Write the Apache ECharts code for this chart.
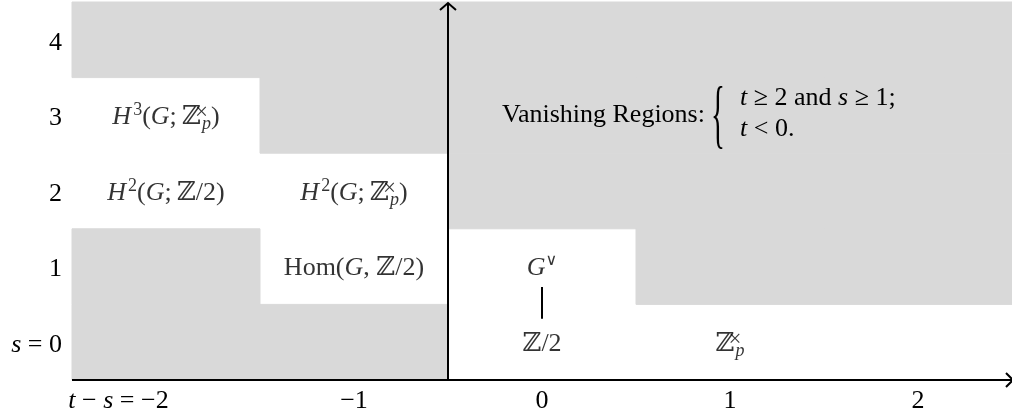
<!DOCTYPE html>
<html><head><meta charset="utf-8">
<script src="https://cdn.jsdelivr.net/npm/echarts@6/dist/echarts.min.js"></script>
<style>html,body{margin:0;padding:0;background:#fff}#c{width:1012px;height:416px}</style>
</head><body><div id="c"></div>
<script>
// ---- data ----
const xTicks = [-2, -1, 0, 1, 2];          // t - s
const yTicks = [0, 1, 2, 3, 4];            // s
// cells of the vanishing regions (t-s, s)
const grayCells = [
  [-2, 4], [-2, 1], [-2, 0],
  [-1, 4], [-1, 3], [-1, 0],
  [0, 4], [0, 3], [0, 2],
  [1, 4], [1, 3], [1, 2], [1, 1],
  [2, 4], [2, 3], [2, 2], [2, 1]
];
// labelled groups: [t-s, s, rich text]
const cellLabels = [
  [-2, 3, '{it|H}{sup|3}{n|(}{it|G}{n|;\u2009ℤ}{sx|×}{sb|p}{n|)}'],
  [-2, 2, '{it|H}{sup|2}{n|(}{it|G}{n|;\u2009ℤ/2)}'],
  [-1, 2, '{it|H}{sup|2}{n|(}{it|G}{n|;\u2009ℤ}{sx|×}{sb|p}{n|)}'],
  [-1, 1, '{n|Hom(}{it|G}{n|, ℤ/2)}'],
  [0, 1, '{it|G}{supv|∨}'],
  [0, 0, '{n|ℤ/2}'],
  [1, 0, '{n|ℤ}{sx|×}{sb|p}']
];
// connections between groups: [x0, s0, x1, s1]
const connectors = [[0, 0, 0, 1]];
// annotation anchor (t-s, s)
const noteAnchor = [[0, 3]];

// ---- style ----
const F = "'Liberation Serif','DejaVu Serif',serif";
const FS = 26;
function mkRich(padTop){
  const pt = padTop || 0;
  return {
    n:{fontFamily:F,fontSize:FS,color:'#000',fill:'#000',lineHeight:32,padding:[pt,0,0,0]},
    it:{fontFamily:F,fontSize:FS,fontStyle:'italic',color:'#000',fill:'#000',lineHeight:32,padding:[pt,0,0,0]},
    sup:{fontFamily:F,fontSize:18,color:'#000',fill:'#000',verticalAlign:'top',lineHeight:18,padding:[0,0,0,2]},
    supv:{fontFamily:F,fontSize:16,color:'#000',fill:'#000',verticalAlign:'top',lineHeight:18},
    sx:{fontFamily:F,fontSize:23,color:'#000',fill:'#000',verticalAlign:'top',lineHeight:20,width:1,align:'left'},
    sb:{fontFamily:F,fontSize:18,fontStyle:'italic',color:'#000',fill:'#000',verticalAlign:'bottom',lineHeight:20},
    np:{fontFamily:F,fontSize:FS,color:'#000',fill:'#000',lineHeight:32,padding:[pt,95,0,0]}
  };
}
const GRAY = '#d9d9d9';

const chart = echarts.init(document.getElementById('c'), null, {renderer:'canvas'});
const option = {
  animation:false,
  backgroundColor:'#fff',
  grid:{left:72, top:2, width:945, height:378},
  xAxis:{
    type:'value', min:-2.5, max:2.5,
    axisLine:{show:false}, axisTick:{show:false}, splitLine:{show:false},
    axisLabel:{
      customValues:xTicks, margin:5,
      formatter:v => v === -2 ? '{it|t}{n| − }{it|s}{np| = −2}' : '{n|' + String(v).replace('-', '−') + '}',
      rich:mkRich(0)
    }
  },
  yAxis:{
    type:'value', min:-0.5, max:4.5,
    axisLine:{show:false}, axisTick:{show:false}, splitLine:{show:false},
    axisLabel:{
      customValues:yTicks, margin:10,
      formatter:v => v === 0 ? '{it|s}{n| = 0}' : '{n|' + v + '}',
      rich:mkRich(6)
    }
  },
  series:[
    {
      type:'custom', silent:true, z:1,
      data:grayCells,
      renderItem:(params, api) => {
        const x = api.value(0), s = api.value(1);
        const p0 = api.coord([x - 0.5, s + 0.5]);
        const p1 = api.coord([x + 0.5, s - 0.5]);
        return {type:'rect', shape:{x:p0[0], y:p0[1], width:p1[0]-p0[0], height:p1[1]-p0[1]},
          style:{fill:GRAY, stroke:GRAY, lineWidth:1}};
      }
    },
    {
      type:'custom', silent:true, z:3,
      data:[[-0.5, -0.5]],
      renderItem:(params, api) => {
        const o = api.coord([api.value(0), api.value(1)]);
        const left = api.coord([-2.5, -0.5]);
        const top = api.coord([-0.5, 4.5]);
        const xr = api.getWidth() + 1;
        const ls = {stroke:'#000', lineWidth:2, fill:null};
        return {type:'group', children:[
          {type:'line', shape:{x1:left[0], y1:o[1], x2:xr, y2:o[1]}, style:ls},
          {type:'line', shape:{x1:o[0], y1:o[1], x2:o[0], y2:top[1]+1}, style:ls},
          {type:'polyline', shape:{points:[[o[0]-8, top[1]+8],[o[0], top[1]+1],[o[0]+8, top[1]+8]]}, style:{stroke:'#000', lineWidth:2, fill:null}},
          {type:'polyline', shape:{points:[[xr-7, o[1]-7],[xr, o[1]],[xr-7, o[1]+7]]}, style:{stroke:'#000', lineWidth:2, fill:null}}
        ]};
      }
    },
    {
      type:'custom', silent:true, z:4,
      data:connectors,
      renderItem:(params, api) => {
        const a = api.coord([api.value(0), api.value(1) + 0.31]);
        const b = api.coord([api.value(2), api.value(3) - 0.27]);
        return {type:'line', shape:{x1:a[0], y1:a[1], x2:b[0], y2:b[1]}, style:{stroke:'#000', lineWidth:2}};
      }
    },
    {
      type:'scatter', silent:true, z:5, symbolSize:0,
      data:cellLabels.map(c => ({value:[c[0], c[1]], text:c[2]})),
      label:{show:true, position:'inside', offset:[0, 2], formatter:p => p.data.text, rich:mkRich(0)}
    },
    {
      type:'custom', silent:true, z:5,
      data:noteAnchor,
      renderItem:(params, api) => {
        const p = api.coord([api.value(0), api.value(1)]);
        const rich = mkRich(0);
        const base = {fontFamily:F, fontSize:FS, fill:'#000'};
        return {type:'group', children:[
          {type:'text', x:p[0]-40, y:p[1]+0, style:Object.assign({text:'Vanishing Regions:', align:'left', verticalAlign:'middle'}, base)},
          {type:'text', x:p[0]+176, y:p[1]+4, scaleX:0.5, scaleY:1.3, style:{text:'{', fontFamily:F, fontSize:58, fill:'#000', align:'center', verticalAlign:'middle'}},
          {type:'text', x:p[0]+198, y:p[1]-17, style:Object.assign({text:'{it|t}{n| ≥ 2 and }{it|s}{n| ≥ 1;}', rich:rich, align:'left', verticalAlign:'middle'}, base)},
          {type:'text', x:p[0]+198, y:p[1]+14, style:Object.assign({text:'{it|t}{n| < 0.}', rich:rich, align:'left', verticalAlign:'middle'}, base)}
        ]};
      }
    }
  ]
};
chart.setOption(option);
</script>
</body></html>
